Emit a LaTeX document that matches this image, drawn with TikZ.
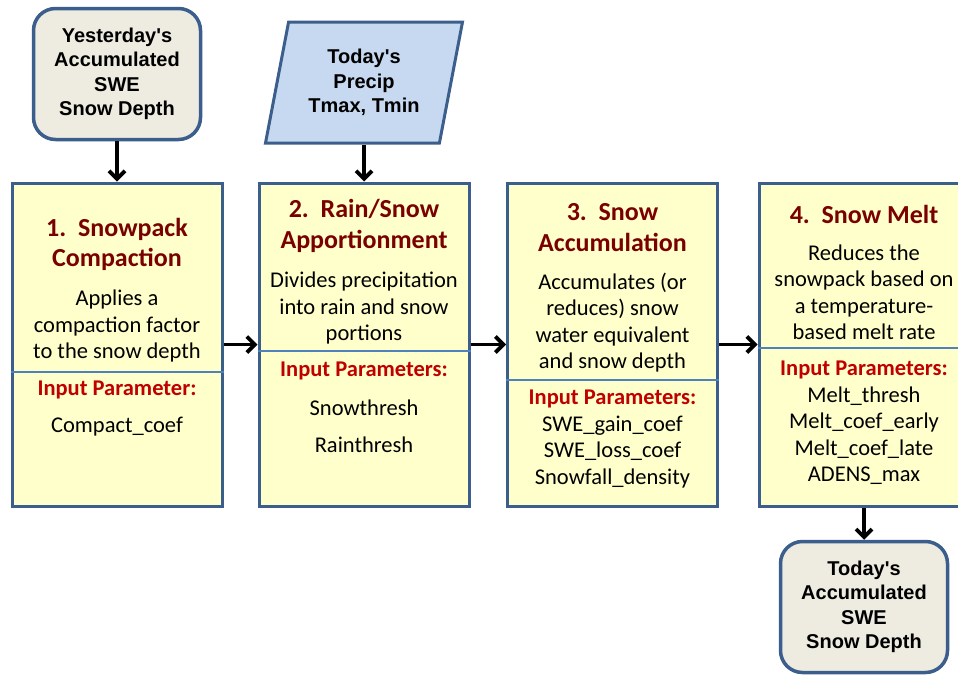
\documentclass[tikz,border=0pt]{standalone}
\usepackage{fontspec}
\setmainfont{Carlito}
\newfontfamily\arialfont{Liberation Sans}
\usetikzlibrary{arrows.meta,shapes.geometric}
\definecolor{boxfill}{HTML}{FFFFCC}
\definecolor{edgeblue}{HTML}{3B5E8C}
\definecolor{divblue}{HTML}{4F81BD}
\definecolor{titlered}{HTML}{7A0000}
\definecolor{paramred}{HTML}{C00000}
\definecolor{databeige}{HTML}{EEECE1}
\definecolor{metblue}{HTML}{C6D9F1}

\begin{document}
\begin{tikzpicture}[x=1pt,y=-1pt,
  stepbox/.style={draw=edgeblue,line width=3pt,fill=boxfill,minimum width=210pt,minimum height=323pt,inner sep=0pt},
  datbox/.style={draw=edgeblue,line width=3.5pt,fill=databeige,rounded corners=22pt,minimum width=167pt,minimum height=131pt,
    align=center,font=\arialfont\bfseries\fontsize{20}{24.5}\selectfont},
  metbox/.style={trapezium,trapezium left angle=72.5,trapezium right angle=107.5,trapezium stretches body,
    draw=edgeblue,line width=3pt,fill=metblue,minimum width=197pt,minimum height=121pt,
    align=center,font=\arialfont\bfseries\fontsize{20}{24.5}\selectfont},
  steptitle/.style={align=center,text=titlered,font=\bfseries\fontsize{26}{30.5}\selectfont},
  steptext/.style={align=center,font=\fontsize{22.5}{26.5}\selectfont},
  paramhead/.style={text=paramred,font=\bfseries\fontsize{22.5}{26.5}\selectfont},
  divline/.style={draw=divblue,line width=1.2pt},
  flow/.style={-{Straight Barb[length=8pt,width=16pt]},line width=3.8pt}]

\useasboundingbox (0,0) rectangle (958,675);

% data in
\node[datbox] (yest) at (117,74) {Yesterday's\\Accumulated\\SWE\\Snow Depth};
\node[metbox] (met) at (364,82.5) {Today's\\Precip\\Tmax, Tmin};

% the four steps
\node[stepbox] (compact) at (117,344.5) {};
\node[stepbox] (apport) at (364,344.5) {};
\node[stepbox] (accum) at (612.5,344.5) {};
\node[stepbox] (melt) at (864,344.5) {};

% data out
\node[datbox] (today) at (864,607) {Today's\\Accumulated\\SWE\\Snow Depth};

\draw[divline] (compact.west |- 0,372) -- (compact.east |- 0,372);
\draw[divline] (apport.west |- 0,351) -- (apport.east |- 0,351);
\draw[divline] (accum.west |- 0,380) -- (accum.east |- 0,380);
\draw[divline] (melt.west |- 0,348) -- (melt.east |- 0,348);

% step 1
\node[steptitle] (compactT) at (117,244.5) {1.~~Snowpack\\Compaction};
\node[steptext] (compactD) at (117,326) {Applies a\\compaction factor\\to the snow depth};
\node[paramhead] (compactH) at (117,390) {Input Parameter:};
\node[steptext] (compactP) at (117,427) {Compact\_coef};

% step 2
\node[steptitle] (apportT) at (364,226) {2.~~Rain/Snow\\Apportionment};
\node[steptext] (apportD) at (364,308) {Divides precipitation\\into rain and snow\\portions};
\node[paramhead] (apportH) at (364,371) {Input Parameters:};
\node[steptext] (apportP) at (364,426.5) {Snowthresh\\[10.5pt]Rainthresh};

% step 3
\node[steptitle] (accumT) at (612.5,227.5) {3.~~Snow\\Accumulation};
\node[steptext] (accumD) at (612.5,322.5) {Accumulates (or\\reduces) snow\\water equivalent\\and snow depth};
\node[paramhead] (accumH) at (612.5,399) {Input Parameters:};
\node[steptext] (accumP) at (612.5,452) {SWE\_gain\_coef\\SWE\_loss\_coef\\Snowfall\_density};

% step 4
\node[steptitle] (meltT) at (864,214) {4.~~Snow Melt};
\node[steptext] (meltD) at (864,292.5) {Reduces the\\snowpack based on\\a temperature-\\based melt rate};
\node[paramhead] (meltH) at (864,370) {Input Parameters:};
\node[steptext] (meltP) at (864,435.5) {Melt\_thresh\\Melt\_coef\_early\\Melt\_coef\_late\\ADENS\_max};

\draw[flow] (yest) -- (compact);
\draw[flow] (met) -- (apport);
\draw[flow] (compact) -- (apport);
\draw[flow] (apport) -- (accum);
\draw[flow] (accum) -- (melt);
\draw[flow] (melt) -- (today);

\end{tikzpicture}
\end{document}
